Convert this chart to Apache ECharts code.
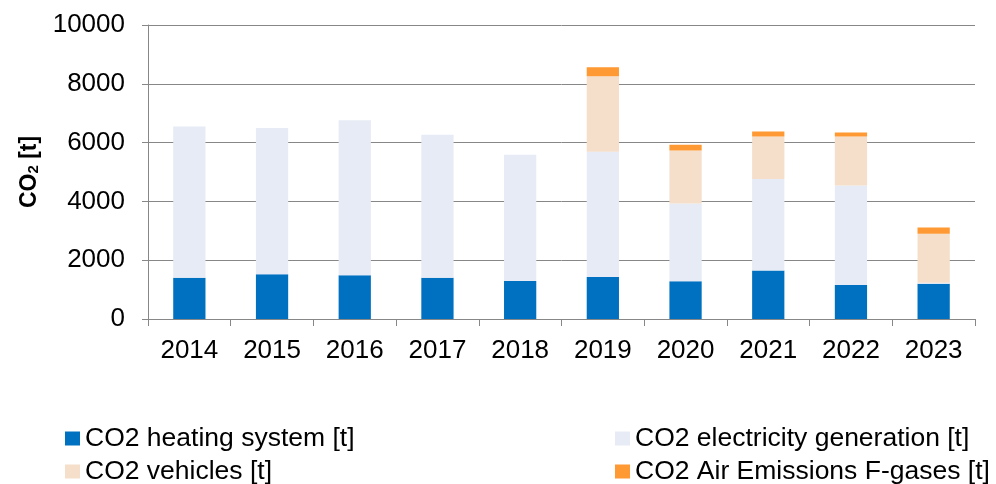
<!DOCTYPE html>
<html>
<head>
<meta charset="utf-8">
<script src="https://cdn.jsdelivr.net/npm/echarts@6/dist/echarts.min.js"></script>
<style>
  html, body { margin: 0; padding: 0; background: #fff; }
  #chart { width: 996px; height: 484px; }
</style>
</head>
<body>
<div id="chart"></div>
<script>
// CO2 emissions per year, stacked by source
const years = ['2014', '2015', '2016', '2017', '2018', '2019', '2020', '2021', '2022', '2023'];
const heating = [1400, 1520, 1490, 1405, 1290, 1430, 1280, 1650, 1155, 1200];
const electricity = [5150, 4980, 5270, 4865, 4300, 4255, 2650, 3115, 3385, 30];
const vehicles = [0, 0, 0, 0, 0, 2570, 1800, 1440, 1665, 1670];
const fgases = [0, 0, 0, 0, 0, 305, 195, 170, 135, 215];
const yTicks = [0, 2000, 4000, 6000, 8000, 10000];
const seriesNames = [
  'CO2 heating system [t]',
  'CO2 electricity generation [t]',
  'CO2 vehicles [t]',
  'CO2 Air Emissions F-gases [t]'
];

const font = 'Liberation Sans, Arial, sans-serif';
const gray = '#878787';

const chart = echarts.init(document.getElementById('chart'));

const bar = (name, data, color) => ({
  name: name,
  type: 'bar',
  stack: 'co2',
  barWidth: '39%',
  data: data,
  itemStyle: { color: color },
  emphasis: { disabled: true }
});

// one legend per item, laid out in two columns like the original
const legendAt = (name, left, top) => ({
  data: [name],
  left: left,
  top: top,
  padding: 0,
  itemWidth: 15,
  itemHeight: 14,
  icon: 'rect',
  selectedMode: false,
  textStyle: { fontFamily: font, fontSize: 26.5, color: '#000' }
});

chart.setOption({
  animation: false,
  grid: { left: 148, right: 21, top: 25, bottom: 165 },
  legend: [
    legendAt(seriesNames[0], 65, 425),
    legendAt(seriesNames[1], 615, 425),
    legendAt(seriesNames[2], 65, 458),
    legendAt(seriesNames[3], 615, 458)
  ],
  xAxis: {
    type: 'category',
    data: years,
    axisLine: { lineStyle: { color: gray, width: 1 } },
    axisTick: { show: true, length: 7, lineStyle: { color: gray } },
    axisLabel: { fontFamily: font, fontSize: 26, color: '#000', margin: 19 }
  },
  yAxis: {
    type: 'value',
    min: yTicks[0],
    max: yTicks[yTicks.length - 1],
    interval: 2000,
    name: '{a|CO}{b|2}{a| [t]}',
    nameLocation: 'middle',
    nameGap: 106,
    nameRotate: 90,
    nameTextStyle: {
      rich: {
        a: { fontFamily: font, fontSize: 23, fontWeight: 'bold', color: '#000' },
        b: { fontFamily: font, fontSize: 15, fontWeight: 'bold', color: '#000', padding: [10, 0, 0, 0] }
      }
    },
    axisLine: { show: true, lineStyle: { color: gray, width: 1 } },
    axisTick: { show: true, length: 6, lineStyle: { color: gray } },
    axisLabel: {
      fontFamily: font, fontSize: 26, color: '#000', margin: 23,
      formatter: (v) => String(v)
    },
    splitLine: { show: true, lineStyle: { color: gray, width: 1 } }
  },
  series: [
    bar(seriesNames[0], heating, '#0070C0'),
    bar(seriesNames[1], electricity, '#E6EBF5'),
    bar(seriesNames[2], vehicles, '#F5DFCA'),
    bar(seriesNames[3], fgases, '#FF9933')
  ]
});
</script>
</body>
</html>
